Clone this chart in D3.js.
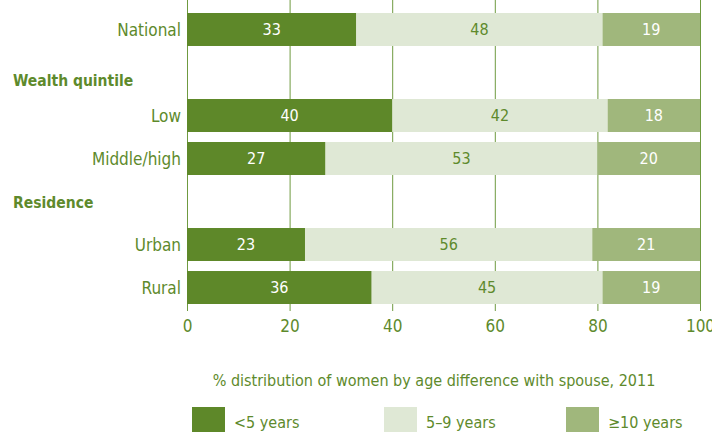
<!DOCTYPE html>
<html lang="en">
<head>
<meta charset="UTF-8">
<script src="https://d3js.org/d3.v7.min.js"></script>
<style>
  body { margin: 0; background: #fff; }
  svg text { font-family: "DejaVu Sans Condensed", "Liberation Sans Narrow", sans-serif; font-stretch: condensed; }
  .grid line { stroke: #6f9a40; stroke-width: 1; }
  .grid .domain { stroke: none; }
  .xaxis .domain { stroke: none; }
  .xaxis line { stroke: #6f9a40; }
  .xaxis text { fill: #5e8a2c; font-size: 17px; }
</style>
</head>
<body>
<svg id="chart" width="712" height="432"></svg>
<script>
// rows, top to bottom; headings are rows with no values
const rows = ["National", "Wealth quintile", "Low", "Middle/high", "Residence", "Urban", "Rural"];
const headings = ["Wealth quintile", "Residence"];
const series = ["<5 years", "5\u20139 years", "\u226510 years"];
const under5 = {"National": 33, "Low": 40, "Middle/high": 27, "Urban": 23, "Rural": 36};
const fiveTo9 = {"National": 48, "Low": 42, "Middle/high": 53, "Urban": 56, "Rural": 45};
const over10 = {"National": 19, "Low": 18, "Middle/high": 20, "Urban": 21, "Rural": 19};
const xTicks = [0, 20, 40, 60, 80, 100];
const title = "% distribution of women by age difference with spouse, 2011";

const colors = ["#5e8829", "#dfe8d5", "#a0b77c"];
const textGreen = "#5e8a2c";

const svg = d3.select("#chart");
const x = d3.scaleLinear().domain([0, 100]).range([187, 700]);
const y = d3.scaleBand().domain(rows).range([13, 304]).paddingInner(0.233).paddingOuter(0);
const color = d3.scaleOrdinal().domain(series).range(colors);

// gridlines behind the bars
svg.append("g")
  .attr("class", "grid")
  .attr("transform", "translate(0,304)")
  .call(d3.axisBottom(x).tickValues(xTicks).tickSize(-304).tickFormat(""));

const dataRows = rows.filter(r => !headings.includes(r)).map(r => ({
  name: r, "<5 years": under5[r], "5\u20139 years": fiveTo9[r], "\u226510 years": over10[r]
}));
const stacked = d3.stack().keys(series)(dataRows);

const layers = svg.append("g").selectAll("g").data(stacked).join("g")
  .attr("fill", d => color(d.key));

layers.selectAll("rect").data(d => d).join("rect")
  .attr("x", d => x(d[0]))
  .attr("y", d => y(d.data.name))
  .attr("width", d => x(d[1]) - x(d[0]))
  .attr("height", y.bandwidth());

layers.each(function(layer, i) {
  d3.select(this).selectAll("text").data(layer).join("text")
    .attr("x", d => (x(d[0]) + x(d[1])) / 2)
    .attr("y", d => y(d.data.name) + y.bandwidth() / 2)
    .attr("dy", "0.36em")
    .attr("text-anchor", "middle")
    .attr("font-size", 16)
    .attr("fill", i === 1 ? textGreen : "#fff")
    .text(d => d[1] - d[0]);
});

// x axis ticks + labels
svg.append("g")
  .attr("class", "xaxis")
  .attr("transform", "translate(0,304)")
  .call(d3.axisBottom(x).tickValues(xTicks).tickSize(7).tickPadding(6));
svg.select(".xaxis").selectAll(".tick text").attr("dy", "0.9em");

// row labels
svg.append("g").selectAll("text").data(rows).join("text")
  .attr("x", d => headings.includes(d) ? 13 : 181)
  .attr("y", d => y(d) + y.bandwidth() / 2 + (d === "Wealth quintile" ? 8 : d === "Residence" ? 1 : 0))
  .attr("dy", "0.36em")
  .attr("text-anchor", d => headings.includes(d) ? "start" : "end")
  .attr("font-size", d => headings.includes(d) ? 15.5 : 17)
  .attr("font-weight", d => headings.includes(d) ? "bold" : "normal")
  .attr("fill", textGreen)
  .text(d => d);

// title
svg.append("text")
  .attr("x", 434)
  .attr("y", 386)
  .attr("text-anchor", "middle")
  .attr("font-size", 16)
  .attr("fill", textGreen)
  .text(title);

// legend
const legendX = [192, 384, 566];
const legend = svg.append("g").selectAll("g").data(series).join("g")
  .attr("transform", (d, i) => "translate(" + legendX[i] + ",407)");
legend.append("rect").attr("width", 33).attr("height", 33).attr("fill", d => color(d));
legend.append("text")
  .attr("x", 42).attr("y", 21)
  .attr("font-size", 16)
  .attr("fill", textGreen)
  .text(d => d);
</script>
</body>
</html>
